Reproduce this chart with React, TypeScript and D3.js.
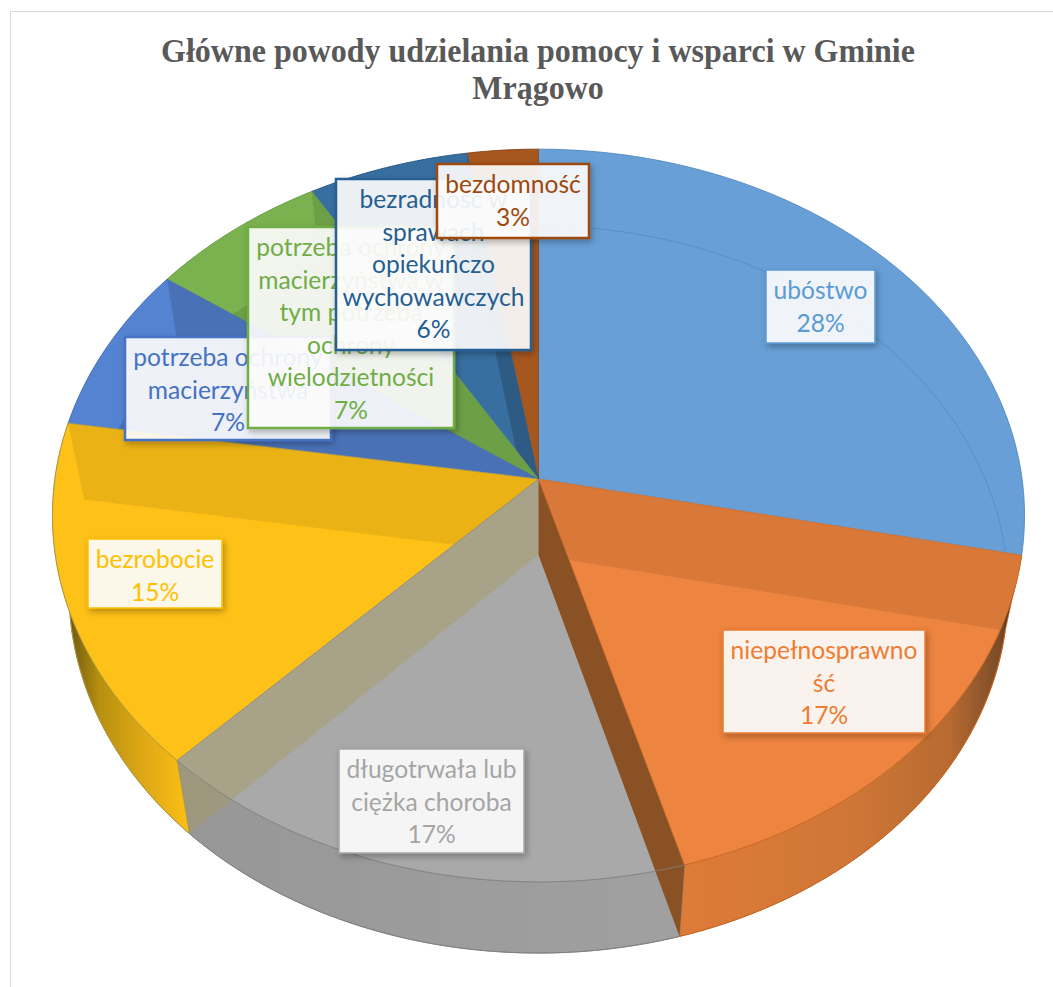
import React from "react";
import * as d3 from "d3";

const titleLines = ["Główne powody udzielania pomocy i wsparci w Gminie", "Mrągowo"];

const categories = [
  "ubóstwo",
  "niepełnosprawność",
  "długotrwała lub ciężka choroba",
  "bezrobocie",
  "potrzeba ochrony macierzyństwa",
  "potrzeba ochrony macierzyństwa w tym potrzeba ochrony wielodzietności",
  "bezradność w sprawach opiekuńczo wychowawczych",
  "bezdomność",
];
const values = [28.3, 17.3, 16.6, 15.3, 7.4, 6.6, 5.9, 2.6];
const percentLabels = ["28%", "17%", "17%", "15%", "7%", "7%", "6%", "3%"];
const labelLines = [
  ["ubóstwo"],
  ["niepełnosprawno", "ść"],
  ["długotrwała lub", "ciężka choroba"],
  ["bezrobocie"],
  ["potrzeba ochrony", "macierzyństwa"],
  ["potrzeba ochrony", "macierzyństwa w", "tym potrzeba", "ochrony", "wielodzietności"],
  ["bezradność w", "sprawach", "opiekuńczo", "wychowawczych"],
  ["bezdomność"],
];

// Display styling, kept apart from the data
const faceColors = ["#679fd6", "#ed843f", "#a9a9a9", "#fec118", "#5483d2", "#7ab24f", "#386fa1", "#a65720"];
const lineColors = ["#5b9bd5", "#ed7d31", "#a5a5a5", "#ffc000", "#4472c4", "#70ad47", "#255e91", "#9e480e"];
const strokeColors = ["#4f86bb", "#c8631f", "#7f7f7f", "#a89440", "#3a62aa", "#5f943c", "#1f4f7c", "#7e3a0c"];
const labelBoxes = [
  [766, 270, 875, 343, 1.5],
  [723, 630, 925, 733, 1.5],
  [339, 749, 524, 853, 1.5],
  [88, 539, 222, 608, 1.5],
  [125, 337, 331, 440, 2.5],
  [248, 227, 454, 428, 2.5],
  [336, 179, 531, 350, 2.5],
  [437, 164, 589, 238, 2.5],
];
const wallStops = [
  { id: "wallOrange", stops: [[690, "#dd7b38"], [850, "#cf7737"], [950, "#b86a30"], [1000, "#7a4c28"], [1018, "#3a2a1a"]] },
  { id: "wallGray", stops: [[180, "#979797"], [680, "#a0a0a0"]] },
  { id: "wallYellow", stops: [[60, "#4d3c0a"], [75, "#7d6410"], [100, "#b8900f"], [140, "#dca615"], [187, "#fbbe16"]] },
];

const W = 1053;
const H = 987;
const cx = 538.5;
const persp = 0.0996;
const persp2 = 0.0949;
const topX = d3.scaleLinear().domain([-1, 1]).range([cx - 483.6, cx + 483.6]);
const topY = d3.scaleLinear().domain([-1, 1]).range([479 - 315, 479 + 315]);
const botY = d3.scaleLinear().domain([-1, 1]).range([555 - 307.6, 555 + 307.6]);
const botXShrink = 0.966;

type P = [number, number];
const onTop = (a: number, r = 1): P => {
  const u = r * Math.sin(a);
  const v = -r * Math.cos(a);
  const den = 1 - persp * v;
  return [cx + (topX(u) - cx) / den, topY(v) / den];
};
const onBottom = (a: number, r = 1): P => {
  const u = r * Math.sin(a);
  const v = -r * Math.cos(a);
  const den = 1 - persp * v;
  return [cx + (botXShrink * (topX(u) - cx)) / den, botY(v) / (1 - persp2 * v)];
};

const arcs = d3
  .pie<number>()
  .sort(null)
  .value((d) => d)(values);
const lineGen = d3.line<P>();
const sample = (a0: number, a1: number) => {
  const n = Math.max(2, Math.ceil((a1 - a0) / 0.01));
  return d3.range(n + 1).map((i) => a0 + ((a1 - a0) * i) / n);
};
const closed = (pts: P[]) => (lineGen(pts) || "") + "Z";

const faceD = (i: number) => {
  const s = arcs[i];
  return closed([onTop(0, 0), ...sample(s.startAngle, s.endAngle).map((a) => onTop(a))]);
};
const wallD = (i: number) => {
  const s = arcs[i];
  const as = sample(s.startAngle, s.endAngle);
  return closed([...as.map((a) => onTop(a)), ...as.slice().reverse().map((a) => onBottom(a))]);
};
const cutD = (a: number) => closed([onTop(0, 0), onTop(a), onBottom(a), onBottom(0, 0)]);
// the floor of a slice together with the cut wall on its far edge, as seen through the translucent top
const backD = (i: number) => {
  const s = arcs[i];
  return closed([
    onTop(0, 0),
    onTop(s.endAngle),
    ...sample(s.startAngle, s.endAngle)
      .reverse()
      .map((a) => onBottom(a)),
    onBottom(0, 0),
  ]);
};
const rimTop = (i: number) => lineGen(sample(arcs[i].startAngle, arcs[i].endAngle).map((a) => onTop(a))) || "";
const rimBot = (i: number) => lineGen(sample(arcs[i].startAngle, arcs[i].endAngle).map((a) => onBottom(a))) || "";
const edge = (a: number) => lineGen([onTop(0, 0), onTop(a)]) || "";

const wallIdx: [number, string][] = [
  [1, "wallOrange"],
  [2, "wallGray"],
  [3, "wallYellow"],
];

// dark overlays clipped to one slice's top face
const shades: { slice: number; d: string; o: number }[] = [
  { slice: 1, d: cutD(arcs[1].startAngle), o: 0.085 },
  { slice: 3, d: cutD(arcs[3].endAngle), o: 0.075 },
  { slice: 4, d: backD(4), o: 0.13 },
  { slice: 5, d: backD(5), o: 0.1 },
  { slice: 6, d: cutD(arcs[6].endAngle), o: 0.18 },
];

const LINE = 32.6;
const FONT = "Lato, 'Noto Sans', sans-serif";

export default function App() {
  return (
    <svg
      width={W}
      height={H}
      viewBox={`0 0 ${W} ${H}`}
      style={{ position: "absolute", left: 0, top: 0, display: "block", background: "#fff" }}
    >
      <defs>
        {wallStops.map((g) => (
          <linearGradient key={g.id} id={g.id} gradientUnits="userSpaceOnUse" x1={52} x2={1024} y1={0} y2={0}>
            {g.stops.map(([x, c], i) => (
              <stop key={i} offset={((x as number) - 52) / 972} stopColor={c as string} />
            ))}
          </linearGradient>
        ))}
        {values.map((_, i) => (
          <clipPath key={i} id={`face${i}`}>
            <path d={faceD(i)} />
          </clipPath>
        ))}
        <filter id="shadow" x="-20%" y="-20%" width="140%" height="140%">
          <feDropShadow dx={2} dy={3} stdDeviation={3} floodColor="#000" floodOpacity={0.3} />
        </filter>
      </defs>

      <rect x={10.5} y={11.5} width={1200} height={1200} fill="#fff" stroke="#d9d9d9" strokeWidth={1} />

      {titleLines.map((t, i) => (
        <text
          key={t}
          transform={`translate(538,${61.5 + i * 37}) scale(0.955,1)`}
          textAnchor="middle"
          fontFamily="'Liberation Serif', serif"
          fontWeight="bold"
          fontSize={33.5}
          fill="#595959"
        >
          {t}
        </text>
      ))}

      {/* outer walls */}
      {wallIdx.map(([i, id]) => (
        <path key={id} d={wallD(i)} fill={`url(#${id})`} stroke={strokeColors[i]} strokeWidth={0.7} />
      ))}
      {wallIdx.map(([i]) => (
        <path key={i} d={rimBot(i)} fill="none" stroke={strokeColors[i]} strokeWidth={1} />
      ))}

      {/* top faces */}
      {values.map((_, i) => (
        <path key={categories[i]} d={faceD(i)} fill={faceColors[i]} />
      ))}

      {/* back structure seen through the translucent top */}
      {shades.map((s, k) => (
        <path key={k} d={s.d} fill="#000" fillOpacity={s.o} clipPath={`url(#face${s.slice})`} />
      ))}
      <path d={rimBot(0)} fill="none" stroke="#4f86bb" strokeOpacity={0.6} strokeWidth={1} clipPath="url(#face0)" />

      {/* cut walls between slices */}
      <path d={cutD(arcs[3].startAngle)} fill="#a89a5a" fillOpacity={0.42} />
      <path d={cutD(arcs[2].startAngle)} fill="#8a5224" />

      {/* rims and edges */}
      {values.map((_, i) => (
        <path key={i} d={rimTop(i)} fill="none" stroke={strokeColors[i]} strokeWidth={1} strokeOpacity={0.85} />
      ))}
      {arcs.map((s, i) => (
        <path
          key={i}
          d={edge(s.startAngle)}
          fill="none"
          stroke={strokeColors[i === 1 ? 1 : (i + 7) % 8]}
          strokeWidth={1}
          strokeOpacity={0.75}
        />
      ))}

      {/* data labels */}
      {values.map((_, i) => {
        const [x0, y0, x1, y1, sw] = labelBoxes[i];
        const lines = [...labelLines[i], percentLabels[i]];
        const mid = (x0 + x1) / 2;
        return (
          <g key={categories[i]}>
            <rect
              x={x0}
              y={y0}
              width={x1 - x0}
              height={y1 - y0}
              fill="#fff"
              fillOpacity={0.89}
              stroke={lineColors[i]}
              strokeWidth={sw}
              filter="url(#shadow)"
            />
            {lines.map((l, k) => (
              <text
                key={k}
                x={mid}
                y={y0 + 29 + k * LINE}
                textAnchor="middle"
                fontFamily={FONT}
                fontSize={24.6}
                fill={lineColors[i]}
              >
                {l}
              </text>
            ))}
          </g>
        );
      })}
    </svg>
  );
}
